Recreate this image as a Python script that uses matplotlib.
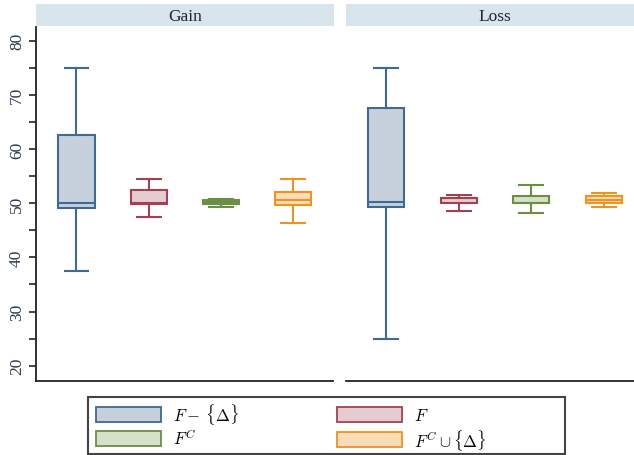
import matplotlib
matplotlib.use("Agg")
import matplotlib.pyplot as plt
from matplotlib.patches import Patch, Rectangle
from matplotlib.ticker import MultipleLocator

plt.rcParams["mathtext.fontset"] = "cm"

panels = ["Gain", "Loss"]
labels = [r"$F-\:\{\Delta\}$", r"$F$", r"$F^C$", r"$F^C\cup\{\Delta\}$"]
edge_colors = ["#3e6a95", "#a4414f", "#6b8f43", "#f0921e"]
fill_colors = ["#c6d1dc", "#e5ccd1", "#d5e1c9", "#fbdcb9"]

# five-number summaries per panel: lower whisker, Q1, median, Q3, upper whisker
gain_whislo = [37.4, 47.5, 49.3, 46.4]
gain_q1 = [49.1, 49.8, 49.9, 49.7]
gain_med = [50.0, 50.0, 50.2, 50.5]
gain_q3 = [62.6, 52.5, 50.55, 52.0]
gain_whishi = [75.0, 54.5, 50.8, 54.5]

loss_whislo = [24.9, 48.6, 48.2, 49.3]
loss_q1 = [49.3, 50.0, 50.0, 50.0]
loss_med = [50.3, 50.9, 50.1, 50.65]
loss_q3 = [67.6, 51.0, 51.4, 51.3]
loss_whishi = [75.0, 51.5, 53.4, 51.8]

summaries = [
    (gain_whislo, gain_q1, gain_med, gain_q3, gain_whishi),
    (loss_whislo, loss_q1, loss_med, loss_q3, loss_whishi),
]

W, H = 634, 456
fig = plt.figure(figsize=(W / 100, H / 100), dpi=100)

ax_rects = [
    (36 / W, 1 - 381.7 / H, (333 - 36) / W, (381.7 - 28) / H),
    (345.7 / W, 1 - 381.7 / H, (643.5 - 345.7) / W, (381.7 - 28) / H),
]
strip_rects = [
    (36 / W, 1 - 27 / H, (334 - 36) / W, 22 / H),
    (345.7 / W, 1 - 27 / H, (643.5 - 345.7) / W, 22 / H),
]

serif = "Liberation Serif"
for i, (name, summ) in enumerate(zip(panels, summaries)):
    ax = fig.add_axes(ax_rects[i])
    lo, q1, med, q3, hi = summ
    for k in range(len(labels)):
        st = dict(whislo=lo[k], q1=q1[k], med=med[k], q3=q3[k], whishi=hi[k], fliers=[])
        ax.bxp(
            [st],
            positions=[k + 1],
            widths=0.5,
            capwidths=0.33,
            patch_artist=True,
            showfliers=False,
            boxprops=dict(facecolor=fill_colors[k], edgecolor=edge_colors[k], linewidth=1.5),
            medianprops=dict(color=edge_colors[k], linewidth=1.5),
            whiskerprops=dict(color=edge_colors[k], linewidth=1.5),
            capprops=dict(color=edge_colors[k], linewidth=1.5),
        )
    ax.set_xlim(0.44, 4.55)
    ax.set_ylim(17.23, 82.53)
    ax.set_xticks([])
    for s in ["top", "right"]:
        ax.spines[s].set_visible(False)
    ax.spines["bottom"].set_color("#222222")
    ax.spines["bottom"].set_linewidth(1.3)
    if i == 0:
        ax.spines["left"].set_color("#222222")
        ax.spines["left"].set_linewidth(1.3)
        ax.yaxis.set_major_locator(MultipleLocator(10))
        ax.yaxis.set_minor_locator(MultipleLocator(5))
        ax.tick_params(axis="y", which="both", length=5, width=1.2, color="#222222",
                       labelsize=12.5, labelcolor="#2c3a4c", pad=3)
        for t in ax.get_yticklabels():
            t.set_rotation(90)
            t.set_va("center")
            t.set_family(serif)
    else:
        ax.spines["left"].set_visible(False)
        ax.set_yticks([])

    sax = fig.add_axes(strip_rects[i])
    sax.set_facecolor("#d8e5ec")
    sax.set_xticks([])
    sax.set_yticks([])
    for s in sax.spines.values():
        s.set_visible(False)
    sax.text(0.5, 0.45, name, ha="center", va="center", fontsize=12.5,
             family=serif, color="#1e2530", transform=sax.transAxes)

# legend frame drawn separately so the two columns can sit at fixed places
fig.add_artist(Rectangle((88 / W, 1 - 455 / H), 477 / W, 57 / H,
                         transform=fig.transFigure, fill=False,
                         edgecolor="#444444", linewidth=1.5))

handles = [Patch(facecolor=f, edgecolor=e, linewidth=1.3) for f, e in zip(fill_colors, edge_colors)]
order = [0, 2, 1, 3]
leg = fig.legend(
    [handles[j] for j in order], [labels[j] for j in order],
    ncol=2, loc="upper left",
    bbox_to_anchor=(96 / W, 1 - 402 / H),
    borderaxespad=0, borderpad=0, fontsize=12, handlelength=3.9, handleheight=1.0,
    handletextpad=0.7, labelspacing=0.15, columnspacing=5.9, frameon=False,
)

fig.savefig("out.png", dpi=100)
